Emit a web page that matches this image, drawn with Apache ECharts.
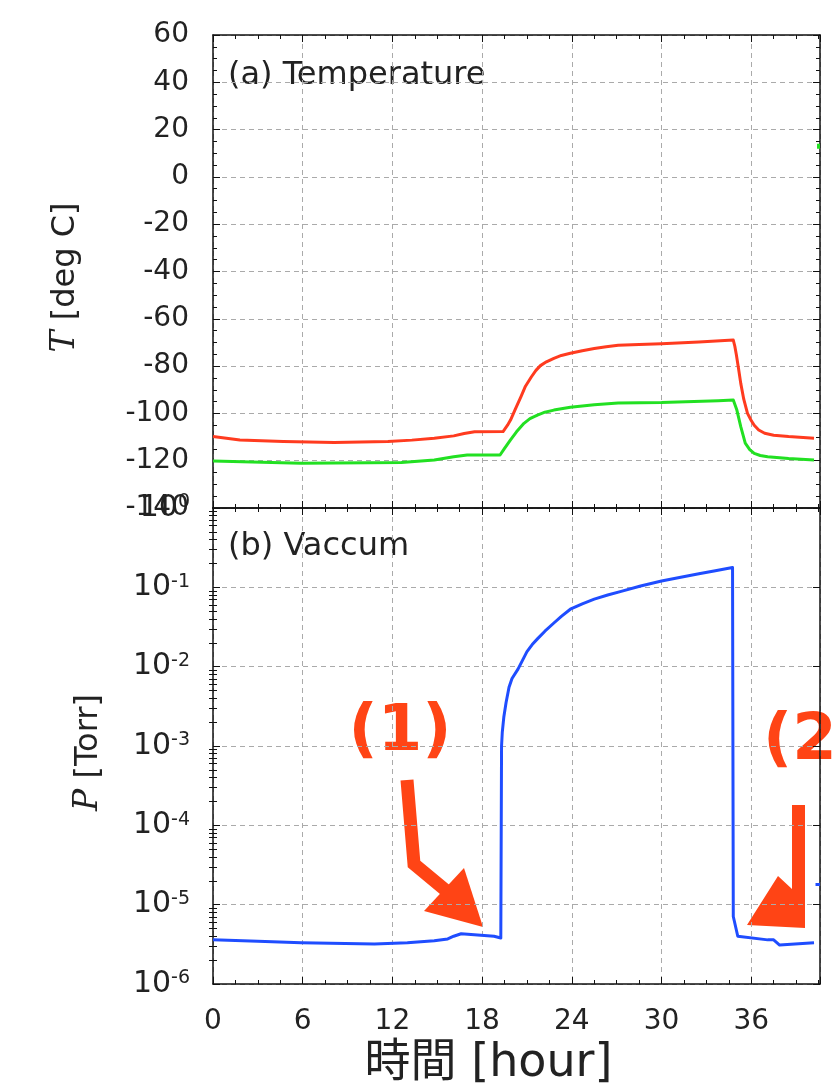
<!DOCTYPE html>
<html>
<head>
<meta charset="utf-8">
<script src="https://cdn.jsdelivr.net/npm/echarts@6/dist/echarts.min.js"></script>
<style>
html, body { margin: 0; padding: 0; background: #fff; }
#main { width: 834px; height: 1088px; }
</style>
</head>
<body>
<div id="main"></div>
<script>
// data
var redHours = [0, 1.8, 4.7, 8.1, 11.7, 13.3, 14.8, 16.1, 16.8, 17.5, 19.4, 19.7, 19.9, 20.2, 20.6, 20.9, 21.3, 21.6, 21.9, 22.3, 22.8, 23.3, 23.9, 24.7, 25.5, 26.3, 27.1, 28.5, 30, 32.5, 34.8, 34.9, 35.0, 35.15, 35.3, 35.5, 35.75, 36.0, 36.2, 36.5, 36.9, 37.5, 38.5, 40.2];
var redTemp = [-109.8, -111.2, -111.9, -112.3, -111.9, -111.3, -110.5, -109.5, -108.5, -107.8, -107.7, -105, -102.8, -98.5, -92.9, -88.5, -84.5, -81.8, -79.8, -78.2, -76.7, -75.5, -74.6, -73.5, -72.6, -71.8, -71.2, -70.9, -70.6, -69.8, -69.0, -71.5, -75, -81, -87.3, -94, -100, -103, -105, -107, -108.4, -109.2, -109.8, -110.5];
var greenHours = [0, 5.9, 12.6, 14.8, 16.1, 17.0, 19.2, 19.5, 19.9, 20.3, 20.8, 21.2, 21.7, 22.2, 22.8, 23.9, 25.5, 27.1, 30, 33.8, 34.8, 35.04, 35.3, 35.6, 35.9, 36.2, 36.6, 37.1, 38.5, 40.2];
var greenTemp = [-120.1, -121.1, -120.8, -119.7, -118.3, -117.6, -117.6, -114.8, -111.2, -107.8, -104.2, -102.2, -100.7, -99.5, -98.6, -97.4, -96.3, -95.6, -95.4, -94.6, -94.3, -98.6, -105.6, -112.6, -115.3, -116.9, -117.8, -118.3, -119.1, -119.7];
var pHours = [0, 3, 5.9, 10.8, 13, 14.8, 15.7, 16.1, 16.6, 18.8, 19.25, 19.3, 19.35, 19.45, 19.6, 19.8, 20.0, 20.4, 20.7, 21.0, 21.35, 21.7, 22.2, 22.8, 23.3, 23.9, 24.7, 25.5, 26.4, 27.3, 28.6, 30, 31.2, 32.5, 33.6, 34.75, 34.8, 35.1, 37.1, 37.5, 37.9, 40.2];
var pTorr = [3.6e-6, 3.45e-6, 3.3e-6, 3.2e-6, 3.3e-6, 3.5e-6, 3.7e-6, 4.0e-6, 4.3e-6, 4.0e-6, 3.8e-6, 1.0e-3, 1.5e-3, 2.3e-3, 3.5e-3, 5.5e-3, 7.1e-3, 9.3e-3, 1.2e-2, 1.55e-2, 1.9e-2, 2.24e-2, 2.8e-2, 3.55e-2, 4.3e-2, 5.3e-2, 6.2e-2, 7.1e-2, 8.0e-2, 8.9e-2, 0.104, 0.12, 0.133, 0.148, 0.162, 0.178, 7.1e-6, 4.0e-6, 3.6e-6, 3.6e-6, 3.1e-6, 3.3e-6];
// bits of the neighbouring panel peeking in at the right edge
var edgeGreenHours = [40.4, 40.6];
var edgeGreenTemp = [13, 13];
var edgeBlueHours = [40.3, 40.6];
var edgeBlueTorr = [1.8e-5, 1.8e-5];

var hourTicks = { min: 0, max: 40.6, interval: 6 };
var tempTicks = { min: -140, max: 60, interval: 20 };

function zip(a, b) {
	var out = [];
	for (var i = 0; i < a.length; i++) out.push([a[i], b[i]]);
	return out;
}

// log minor tick positions (in decades)
var logMinor = [];
for (var n = -6; n < 0; n++) {
	for (var k = 2; k <= 9; k++) logMinor.push(n + Math.log10(k));
}

var FONT = 'DejaVu Sans';
var gridLine = { show: true, lineStyle: { color: '#aaa', type: [5, 4], width: 1 } };
var frame = { show: true, onZero: false, lineStyle: { color: '#111', width: 1.5 } };

function xAx(grid, pos, labels) {
	return {
		type: 'value', gridIndex: grid, position: pos,
		min: hourTicks.min, max: hourTicks.max, interval: hourTicks.interval,
		axisLine: frame,
		axisTick: { inside: true, length: 7, lineStyle: { color: '#111' } },
		minorTick: { show: true, splitNumber: 4, length: 4, lineStyle: { color: '#111' } },
		axisLabel: labels ? { show: true, fontFamily: FONT, fontSize: 28, color: '#222', margin: 24, showMaxLabel: false } : { show: false },
		splitLine: pos === 'bottom' ? gridLine : { show: false }
	};
}

var myChart = echarts.init(document.getElementById('main'));
var option = {
	animation: false,
	backgroundColor: '#fff',
	grid: [
		{ left: 213, top: 35, width: 607, height: 473 },
		{ left: 213, top: 508, width: 607, height: 481 }
	],
	xAxis: [
		xAx(0, 'bottom', false),
		xAx(0, 'top', false),
		Object.assign(xAx(1, 'bottom', true), {
			name: '時間 [hour]', nameLocation: 'middle', nameGap: 57,
			nameTextStyle: { fontFamily: 'DejaVu Sans, Noto Sans CJK JP', fontSize: 46, color: '#222', padding: [0, 56, 0, 0] }
		}),
		xAx(1, 'top', false)
	],
	yAxis: [
		{
			type: 'value', gridIndex: 0, position: 'left',
			min: tempTicks.min, max: tempTicks.max, interval: tempTicks.interval,
			axisLine: frame,
			axisTick: { inside: true, length: 7, lineStyle: { color: '#111' } },
			minorTick: { show: true, splitNumber: 4, length: 4, lineStyle: { color: '#111' } },
			axisLabel: { fontFamily: FONT, fontSize: 28, color: '#222', margin: 24 },
			splitLine: gridLine,
			name: '{i|T} [deg C]', nameLocation: 'middle', nameGap: 131,
			nameTextStyle: {
				fontFamily: FONT, fontSize: 32, color: '#222', padding: [0, 12, 0, 0],
				rich: { i: { fontFamily: 'DejaVu Serif', fontStyle: 'italic', fontSize: 33, color: '#222' } }
			}
		},
		{
			type: 'value', gridIndex: 0, position: 'right',
			min: tempTicks.min, max: tempTicks.max, interval: tempTicks.interval,
			axisLine: frame,
			axisTick: { inside: true, length: 7, lineStyle: { color: '#111' } },
			minorTick: { show: true, splitNumber: 4, length: 4, lineStyle: { color: '#111' } },
			axisLabel: { show: false },
			splitLine: { show: false }
		},
		{
			type: 'log', logBase: 10, gridIndex: 1, position: 'left',
			min: 1e-6, max: 1,
			axisLine: frame,
			axisTick: { inside: true, length: 7, lineStyle: { color: '#111' } },
			axisLabel: {
				margin: 23,
				formatter: function (v) { return '{b|10}{s|' + Math.round(Math.log10(v)) + '}'; },
				rich: {
					b: { fontFamily: FONT, fontSize: 30, color: '#222', lineHeight: 30 },
					s: { fontFamily: FONT, fontSize: 19, color: '#222', lineHeight: 13, verticalAlign: 'top' }
				}
			},
			splitLine: gridLine,
			name: '{i|P} [Torr]', nameLocation: 'middle', nameGap: 108,
			nameTextStyle: {
				fontFamily: FONT, fontSize: 32, color: '#222', padding: [0, 13, 0, 0],
				rich: { i: { fontFamily: 'DejaVu Serif', fontStyle: 'italic', fontSize: 33, color: '#222' } }
			}
		},
		{
			type: 'log', logBase: 10, gridIndex: 1, position: 'right',
			min: 1e-6, max: 1,
			axisLine: frame,
			axisTick: { inside: true, length: 7, lineStyle: { color: '#111' } },
			axisLabel: { show: false },
			splitLine: { show: false }
		},
		// minor log ticks
		{
			type: 'value', gridIndex: 1, position: 'left', min: -6, max: 0,
			axisLine: { show: false }, axisLabel: { show: false }, splitLine: { show: false },
			axisTick: { show: true, inside: true, length: 4, customValues: logMinor, lineStyle: { color: '#111' } }
		},
		{
			type: 'value', gridIndex: 1, position: 'right', min: -6, max: 0,
			axisLine: { show: false }, axisLabel: { show: false }, splitLine: { show: false },
			axisTick: { show: true, inside: true, length: 4, customValues: logMinor, lineStyle: { color: '#111' } }
		}
	],
	series: [
		{ type: 'line', xAxisIndex: 0, yAxisIndex: 0, data: zip(redHours, redTemp), showSymbol: false, lineStyle: { color: '#ff3b1f', width: 3, join: 'round' } },
		{ type: 'line', xAxisIndex: 0, yAxisIndex: 0, data: zip(greenHours, greenTemp), showSymbol: false, lineStyle: { color: '#22e022', width: 3, join: 'round' } },
		{ type: 'line', xAxisIndex: 0, yAxisIndex: 0, data: zip(edgeGreenHours, edgeGreenTemp), showSymbol: false, lineStyle: { color: '#22e022', width: 5 } },
		{ type: 'line', xAxisIndex: 2, yAxisIndex: 2, data: zip(pHours, pTorr), showSymbol: false, lineStyle: { color: '#1f4dff', width: 3, join: 'round' } },
		{ type: 'line', xAxisIndex: 2, yAxisIndex: 2, data: zip(edgeBlueHours, edgeBlueTorr), showSymbol: false, lineStyle: { color: '#1f4dff', width: 3 } }
	],
	graphic: [
		{ type: 'text', left: 228, top: 60, style: { text: '(a) Temperature', font: '32px "DejaVu Sans"', fill: '#222' } },
		{ type: 'text', left: 228, top: 531, style: { text: '(b) Vaccum', font: '32px "DejaVu Sans"', fill: '#222' } },
		// annotation (1)
		{ type: 'text', x: 400, y: 733, style: { text: '(1)', font: 'bold 64px "DejaVu Sans"', fill: '#ff4415', align: 'center', verticalAlign: 'middle' } },
		{ type: 'polyline', shape: { points: [[407, 780], [414, 864], [455, 898]] }, style: { stroke: '#ff4415', lineWidth: 13, lineJoin: 'miter', fill: null } },
		{ type: 'polygon', shape: { points: [[424, 911], [483, 927], [464, 868]] }, style: { fill: '#ff4415' } },
		// annotation (2)
		{ type: 'text', x: 763, y: 742, style: { text: '(2)', font: 'bold 64px "DejaVu Sans"', fill: '#ff4415', align: 'left', verticalAlign: 'middle' } },
		{ type: 'polygon', shape: { points: [[792, 805], [792, 889], [778, 876], [747, 925], [805, 928], [805, 805]] }, style: { fill: '#ff4415' } }
	]
};
myChart.setOption(option);
window.onresize = myChart.resize;
</script>
</body>
</html>
